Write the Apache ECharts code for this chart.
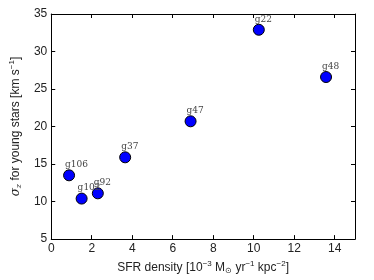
<!DOCTYPE html>
<html><head><meta charset="utf-8">
<script src="https://cdn.jsdelivr.net/npm/echarts@6/dist/echarts.min.js"></script>
<style>html,body{margin:0;padding:0;background:#fff}#c{width:374px;height:280px}</style>
</head><body><div id="c"></div>
<script>
var names = ['g106','g102','g92','g37','g47','g22','g48'];
var sfr = [0.88, 1.50, 2.30, 3.65, 6.88, 10.25, 13.57];
var sigma = [13.5, 10.4, 11.1, 15.9, 20.7, 32.9, 26.6];
var xTicks = [0, 2, 4, 6, 8, 10, 12, 14];
var yTicks = [5, 10, 15, 20, 25, 30, 35];

var data = names.map(function(n, i){ return [sfr[i], sigma[i], n]; });
var font = 'Liberation Sans';
var chart = echarts.init(document.getElementById('c'), null, {renderer:'canvas'});
function axBase(){
  return {
    axisLine:{show:true, onZero:false, lineStyle:{color:'#000', width:1}},
    axisTick:{show:true, inside:true, length:4, lineStyle:{color:'#000', width:1}},
    splitLine:{show:false}
  };
}
var xb = Object.assign(axBase(), {type:'value', min:0, max:15, interval:2, position:'bottom',
  axisLabel:{show:true, color:'#222', fontFamily:font, fontSize:12, margin:4,
    formatter:function(v){ return xTicks.indexOf(v) >= 0 ? String(v) : ''; }},
  name:'SFR density [10{s|−3} M{o|⊙} yr{s|−1} kpc{s|−2}]', nameLocation:'middle', nameGap:17,
  nameTextStyle:{color:'#222', fontFamily:font, fontSize:12,
    rich:{s:{fontSize:8, verticalAlign:'top', padding:[0,0,7,0], color:'#222', fontFamily:font},
          o:{fontSize:8, verticalAlign:'bottom', padding:[6,0,0,0], color:'#222', fontFamily:font}}}
});
var xt = Object.assign(axBase(), {type:'value', min:0, max:15, interval:2, position:'top',
  axisLabel:{show:false}});
var yl = Object.assign(axBase(), {type:'value', min:5, max:35, interval:5, position:'left',
  axisLabel:{show:true, color:'#222', fontFamily:font, fontSize:12, margin:4,
    formatter:function(v){ return yTicks.indexOf(v) >= 0 ? String(v) : ''; }},
  name:'{g|σ}{z|z} for young stars [km s{s|−1}]', nameLocation:'middle', nameGap:28,
  nameTextStyle:{color:'#222', fontFamily:font, fontSize:12,
    rich:{g:{fontFamily:'DejaVu Serif', fontStyle:'italic', fontSize:12, color:'#222'},
          z:{fontFamily:'DejaVu Serif', fontStyle:'italic', fontSize:8, padding:[6,0,0,0], verticalAlign:'bottom', color:'#222'},
          s:{fontSize:8, verticalAlign:'top', padding:[0,0,7,0], color:'#222', fontFamily:font}}}
});
var yr = Object.assign(axBase(), {type:'value', min:5, max:35, interval:5, position:'right',
  axisLabel:{show:false}});

chart.setOption({
  animation:false,
  backgroundColor:'#fff',
  grid:{left:49, right:19, top:14, bottom:37, containLabel:false},
  xAxis:[xb, xt],
  yAxis:[yl, yr],
  series:[{
    type:'scatter', xAxisIndex:0, yAxisIndex:0,
    data:data, symbol:'circle', symbolSize:11,
    itemStyle:{color:'#0000ff', borderColor:'#000', borderWidth:1, opacity:1},
    label:{show:true, formatter:function(p){return p.data[2];}, position:'top', distance:1,
      align:'left', offset:[-4,1], fontFamily:'DejaVu Serif', fontSize:9, color:'#444'}
  }]
});
</script></body></html>
